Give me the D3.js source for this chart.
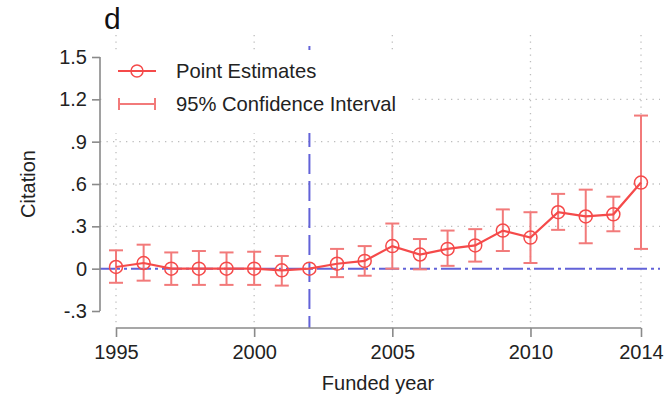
<!DOCTYPE html>
<html>
<head>
<meta charset="utf-8">
<script src="https://cdn.jsdelivr.net/npm/d3@7"></script>
<style>
  body { margin: 0; background: #fff; }
  svg { font-family: "Liberation Sans", Arial, sans-serif; }
</style>
</head>
<body>
<div id="chart"></div>
<script>
// data
var years = [1995, 1996, 1997, 1998, 1999, 2000, 2001, 2002, 2003, 2004,
             2005, 2006, 2007, 2008, 2009, 2010, 2011, 2012, 2013, 2014];
var estimates = [0.012, 0.04, 0, 0, 0, 0, -0.012, 0, 0.035, 0.055,
                 0.16, 0.10, 0.14, 0.165, 0.27, 0.22, 0.40, 0.37, 0.385, 0.61];
var ciLow = [-0.10, -0.085, -0.115, -0.115, -0.115, -0.115, -0.12, null, -0.06, -0.05,
             0.0, -0.005, 0.02, 0.05, 0.125, 0.04, 0.275, 0.18, 0.265, 0.14];
var ciHigh = [0.13, 0.17, 0.115, 0.125, 0.115, 0.12, 0.09, null, 0.14, 0.16,
              0.32, 0.21, 0.27, 0.28, 0.42, 0.40, 0.53, 0.56, 0.51, 1.085];
var xTicks = [1995, 2000, 2005, 2010, 2014];
var yTicks = [-0.3, 0, 0.3, 0.6, 0.9, 1.2, 1.5];
var yGrid = [0.3, 0.6, 0.9, 1.2];
var cutYear = 2002;

var width = 664, height = 394;
var lineRed = "#f54a4a", ciRed = "#f27a7a", blue = "#6262d8", axisGray = "#8a8a8a";
var fontSize = 20;

var svg = d3.select("#chart").append("svg")
    .attr("width", width).attr("height", height);

var x = d3.scaleLinear().domain([1995, 2014]).range([116, 641]);
var y = d3.scaleLinear().domain([-0.3, 1.5]).range([311, 57]);
var plotTop = 35, plotBottom = 328, plotLeft = 100, plotRight = 660;

// stata style labels: .3, -.3, 0, 1.2
var fmt = function(d) {
  if (Math.abs(d) < 1e-9) return "0";
  var s = Math.abs(d).toFixed(1);
  if (s.charAt(0) == "0") s = s.slice(1);
  return (d < 0 ? "-" : "") + s;
};

// grid
svg.append("g").selectAll("line").data(yGrid).join("line")
    .attr("x1", plotLeft).attr("x2", plotRight)
    .attr("y1", d => y(d)).attr("y2", d => y(d))
    .attr("stroke", "#bdbdbd").attr("stroke-width", 1.3)
    .attr("stroke-dasharray", "1.3,5.2");
svg.append("g").selectAll("line").data(xTicks).join("line")
    .attr("x1", d => x(d)).attr("x2", d => x(d))
    .attr("y1", plotTop).attr("y2", plotBottom)
    .attr("stroke", "#bdbdbd").attr("stroke-width", 1.3)
    .attr("stroke-dasharray", "1.3,5.2");

// reference lines
svg.append("line")
    .attr("x1", plotLeft).attr("x2", plotRight)
    .attr("y1", y(0)).attr("y2", y(0))
    .attr("stroke", blue).attr("stroke-width", 2)
    .attr("stroke-dasharray", "20,4,3,4");
svg.append("line")
    .attr("x1", x(cutYear)).attr("x2", x(cutYear))
    .attr("y1", plotTop + 11).attr("y2", plotBottom)
    .attr("stroke", blue).attr("stroke-width", 2)
    .attr("stroke-dasharray", "20,7");

// confidence intervals
var ci = years.map((yr, i) => ({yr: yr, lo: ciLow[i], hi: ciHigh[i]})).filter(d => d.lo !== null);
var gci = svg.append("g").attr("stroke", ciRed).attr("stroke-width", 2).attr("fill", "none");
gci.selectAll("line.bar").data(ci).join("line").attr("class", "bar")
    .attr("x1", d => x(d.yr)).attr("x2", d => x(d.yr))
    .attr("y1", d => y(d.lo)).attr("y2", d => y(d.hi));
gci.selectAll("line.lo").data(ci).join("line").attr("class", "lo")
    .attr("x1", d => x(d.yr) - 7).attr("x2", d => x(d.yr) + 7)
    .attr("y1", d => y(d.lo)).attr("y2", d => y(d.lo));
gci.selectAll("line.hi").data(ci).join("line").attr("class", "hi")
    .attr("x1", d => x(d.yr) - 7).attr("x2", d => x(d.yr) + 7)
    .attr("y1", d => y(d.hi)).attr("y2", d => y(d.hi));

// estimates
var pts = years.map((yr, i) => ({yr: yr, v: estimates[i]}));
svg.append("path").datum(pts)
    .attr("fill", "none").attr("stroke", lineRed).attr("stroke-width", 2.2)
    .attr("d", d3.line().x(d => x(d.yr)).y(d => y(d.v)));
svg.append("g").selectAll("circle").data(pts).join("circle")
    .attr("cx", d => x(d.yr)).attr("cy", d => y(d.v)).attr("r", 6.5)
    .attr("fill", "none").attr("stroke", lineRed).attr("stroke-width", 1.5);

// legend (white box hides the grid)
var leg = svg.append("g");
leg.append("rect").attr("x", 104).attr("y", 50).attr("width", 304).attr("height", 83).attr("fill", "#fff");
leg.append("line").attr("x1", 118).attr("x2", 156).attr("y1", 71).attr("y2", 71)
    .attr("stroke", lineRed).attr("stroke-width", 2);
leg.append("circle").attr("cx", 137).attr("cy", 71).attr("r", 6)
    .attr("fill", "none").attr("stroke", lineRed).attr("stroke-width", 1.5);
leg.append("line").attr("x1", 118).attr("x2", 156).attr("y1", 104).attr("y2", 104)
    .attr("stroke", ciRed).attr("stroke-width", 2);
leg.append("line").attr("x1", 119).attr("x2", 119).attr("y1", 98).attr("y2", 110)
    .attr("stroke", ciRed).attr("stroke-width", 2);
leg.append("line").attr("x1", 155).attr("x2", 155).attr("y1", 98).attr("y2", 110)
    .attr("stroke", ciRed).attr("stroke-width", 2);
leg.append("text").attr("x", 176).attr("y", 78).attr("font-size", fontSize + 0.2).attr("fill", "#222").text("Point Estimates");
leg.append("text").attr("x", 176).attr("y", 111).attr("font-size", fontSize + 0.2).attr("fill", "#222").text("95% Confidence Interval");

// axes
var yAxis = svg.append("g").attr("transform", "translate(100,0)")
    .call(d3.axisLeft(y).tickValues(yTicks).tickFormat(fmt).tickSize(8).tickPadding(5));
var xAxis = svg.append("g").attr("transform", "translate(0,328)")
    .call(d3.axisBottom(x).tickValues(xTicks).tickFormat(d3.format("d")).tickSize(9).tickPadding(8));
[yAxis, xAxis].forEach(a => {
  a.select(".domain").attr("stroke", axisGray).attr("stroke-width", 1.6);
  a.selectAll(".tick line").attr("stroke", axisGray).attr("stroke-width", 1.6);
  a.selectAll(".tick text").attr("font-size", fontSize).attr("fill", "#222")
    .attr("font-family", "Liberation Sans, Arial, sans-serif");
});
yAxis.select(".domain").attr("d", "M0," + y(-0.3) + "V" + y(1.5));
xAxis.select(".domain").attr("d", "M" + x(1995) + ",0H" + x(2014));

// titles
svg.append("text").attr("x", 28).attr("y", 184).attr("text-anchor", "middle")
    .attr("transform", "rotate(-90,28,184)").attr("dy", "0.35em")
    .attr("font-size", fontSize).attr("fill", "#222").text("Citation");
svg.append("text").attr("x", 378).attr("y", 390).attr("text-anchor", "middle")
    .attr("font-size", fontSize).attr("fill", "#222").text("Funded year");
svg.append("text").attr("x", 104).attr("y", 29)
    .attr("font-size", 30).attr("fill", "#111").text("d");
</script>
</body>
</html>
